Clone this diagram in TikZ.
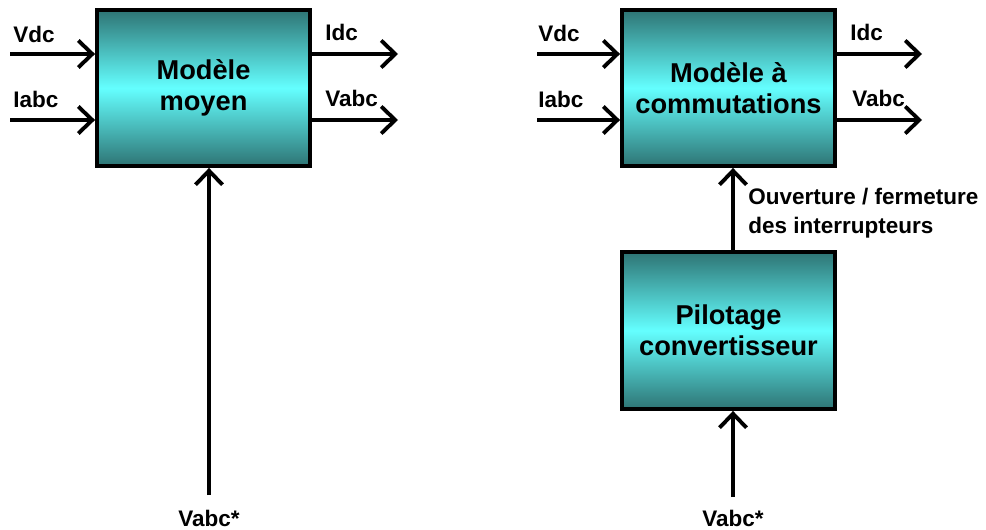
\documentclass[tikz,border=0pt]{standalone}
\usepackage{fontspec}
\setmainfont{Liberation Sans}
\usetikzlibrary{arrows.meta,shadows}
\definecolor{tealdark}{RGB}{46,116,116}
\definecolor{cyanlight}{RGB}{100,255,255}
\tikzset{
  bloc/.style={draw, line width=2.2pt, top color=tealdark, bottom color=tealdark,
    middle color=cyanlight, minimum width=42.6mm, minimum height=31.2mm,
    align=center, font=\fontsize{15.5}{17.6}\selectfont\bfseries,
    drop shadow={shadow xshift=0.6pt, shadow yshift=-0.6pt, fill=gray!60, opacity=1}},
  sig/.style={-{Straight Barb[length=2.8mm,width=5.4mm,line width=2.2pt]}, line width=2.2pt},
  lab/.style={anchor=base west, inner sep=0, font=\fontsize{12.8}{16.5}\selectfont\bfseries},
}
\begin{document}
\begin{tikzpicture}[x=0.2mm, y=-0.2mm]
    \useasboundingbox (0,0) rectangle (986,529);
    % modele moyen
    \node [bloc] (moy) at (203.5,88) {Modèle\\moyen};
    \coordinate (in1a) at (10,54);
    \coordinate (in1b) at (10,120);
    \coordinate (out1a) at (398,54);
    \coordinate (out1b) at (398,120);
    \coordinate (ref1) at (209,495);
    \draw [sig] (in1a) -- (in1a -| moy.west);
    \draw [sig] (in1b) -- (in1b -| moy.west);
    \draw [sig] (out1a -| moy.east) -- (out1a);
    \draw [sig] (out1b -| moy.east) -- (out1b);
    \draw [sig] (ref1) -- (ref1 |- moy.south);
    \node [lab] (vdc1) at (13,43) {Vdc};
    \node [lab] (iabc1) at (13,108) {Iabc};
    \node [lab] (idc1) at (325,41) {Idc};
    \node [lab] (vabc1) at (325,107) {Vabc};
    \node [lab, anchor=base] (vref1) at (209,526) {Vabc*};
    % modele a commutations
    \node [bloc] (com) at (728.5,88) {Modèle à\\commutations};
    \node [bloc, minimum height=31.4mm] (pil) at (728.5,330.5) {Pilotage\\convertisseur};
    \coordinate (in2a) at (537,54);
    \coordinate (in2b) at (537,120);
    \coordinate (out2a) at (922,54);
    \coordinate (out2b) at (922,120);
    \coordinate (ref2) at (733,497);
    \draw [sig] (in2a) -- (in2a -| com.west);
    \draw [sig] (in2b) -- (in2b -| com.west);
    \draw [sig] (out2a -| com.east) -- (out2a);
    \draw [sig] (out2b -| com.east) -- (out2b);
    \draw [sig] (ref2 |- pil.north) -- (ref2 |- com.south);
    \draw [sig] (ref2) -- (ref2 |- pil.south);
    \node [lab] (vdc2) at (538,42) {Vdc};
    \node [lab] (iabc2) at (538,108) {Iabc};
    \node [lab] (idc2) at (850,41) {Idc};
    \node [lab] (vabc2) at (852,107) {Vabc};
    \node [lab, align=left, anchor=north west] (ordres) at (748,188) {Ouverture / fermeture\\des interrupteurs};
    \node [lab, anchor=base] (vref2) at (733,526) {Vabc*};
\end{tikzpicture}
\end{document}
